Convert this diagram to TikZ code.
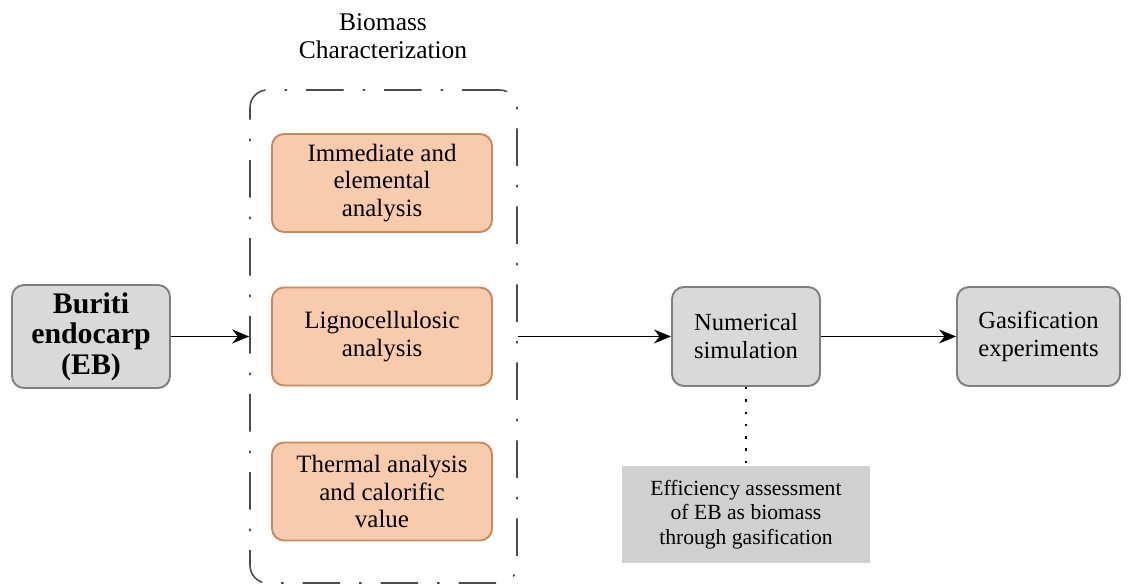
\documentclass[tikz,border=0pt]{standalone}
\usepackage{fontspec}
\setmainfont{LiberationSerif}[Extension=.ttf, UprightFont=*-Regular, BoldFont=*-Bold, ItalicFont=*-Italic]
\usepackage{tikz}
\usetikzlibrary{arrows.meta,positioning}

\definecolor{boxgray}{HTML}{D9D9D9}
\definecolor{edgegray}{HTML}{7F7F7F}
\definecolor{peach}{HTML}{F8CBAD}
\definecolor{peachedge}{HTML}{C48A60}
\definecolor{notegray}{HTML}{D0D0D0}

\begin{document}
\begin{tikzpicture}[
    stage/.style={draw=edgegray, line width=1.1pt, rounded corners=0.24cm, fill=boxgray, align=center, inner sep=1pt, font=\fontsize{14}{15.9}\selectfont},
    analysis/.style={draw=peachedge, line width=1.1pt, rounded corners=0.24cm, fill=peach, align=center, inner sep=1pt, minimum width=4.4cm, minimum height=1.96cm, font=\fontsize{14.2}{15.9}\selectfont},
    group/.style={draw=black!70, line width=0.9pt, rounded corners=0.35cm, dash pattern=on 0.75cm off 0.38cm on 0.05cm off 0.38cm},
    arr/.style={-{Stealth[length=0.34cm,width=0.28cm]}, line width=0.8pt}
]
\useasboundingbox (0,0) rectangle (22.64,11.76);

\node[stage, minimum width=3.16cm, minimum height=2.06cm, font=\fontsize{17}{17.4}\selectfont\bfseries] (buriti) at (1.82,5.03) {Buriti\\endocarp\\(EB)};

\node[group, minimum width=5.34cm, minimum height=9.86cm] (charbox) at (7.67,5.03) {};
\node[align=center, font=\fontsize{14.5}{15.9}\selectfont] (chartitle) at (7.66,11.04) {Biomass\\Characterization};

\node[analysis] (immediate) at (7.64,8.1) {Immediate and\\elemental\\analysis};
\node[analysis] (ligno) at (7.64,5.03) {Lignocellulosic\\analysis};
\node[analysis] (thermal) at (7.64,1.93) {Thermal analysis\\and calorific\\value};

\node[stage, minimum width=2.96cm, minimum height=1.98cm] (numsim) at (14.92,5.03) {Numerical\\simulation};
\node[stage, minimum width=3.26cm, minimum height=1.98cm] (gasif) at (20.77,5.03) {Gasification\\experiments};
\node[fill=notegray, minimum width=4.96cm, minimum height=1.94cm, align=center, inner sep=1pt, font=\fontsize{12.3}{13.9}\selectfont] (effic) at (14.92,1.47) {Efficiency assessment\\of EB as biomass\\through gasification};

\draw[arr] (buriti.east) -- (charbox.west);
\draw[arr] (charbox.east) -- (numsim.west);
\draw[arr] (numsim.east) -- (gasif.west);
\draw[line width=1.4pt, dash pattern=on 1.4pt off 5.6pt] (numsim.south) -- (effic.north);
\end{tikzpicture}
\end{document}
